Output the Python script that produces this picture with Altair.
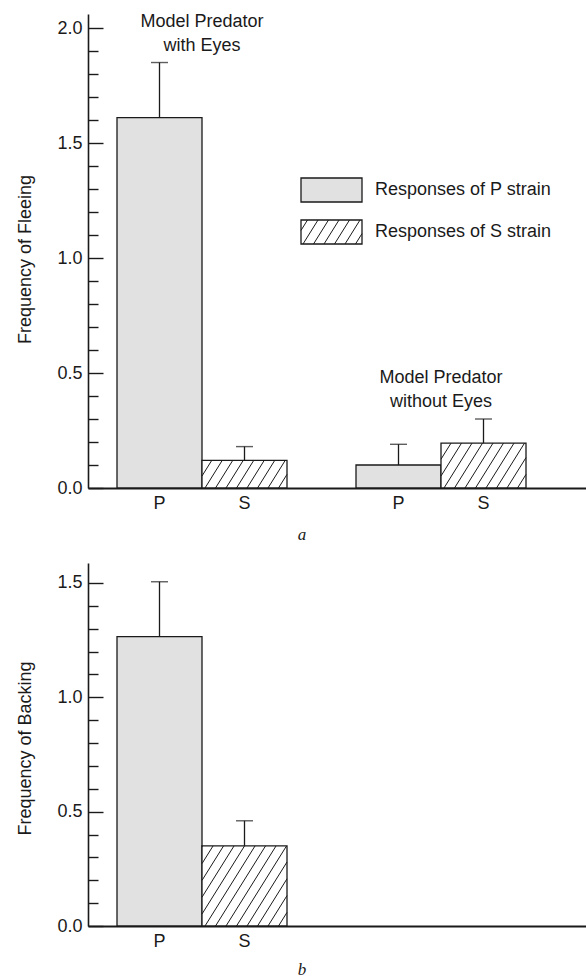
import altair as alt
import numpy as np
import pandas as pd

# ---------------- data ----------------
strains = ["P", "S"]
group_names = ["Model Predator\nwith Eyes", "Model Predator\nwithout Eyes"]

flee_group = [0, 0, 1, 1]
flee_strain = ["P", "S", "P", "S"]
flee_mean = [1.61, 0.12, 0.10, 0.195]
flee_upper = [1.85, 0.18, 0.19, 0.30]

back_group = [0, 0]
back_strain = ["P", "S"]
back_mean = [1.265, 0.35]
back_upper = [1.505, 0.46]

legend_labels = ["Responses of P strain", "Responses of S strain"]
panel_titles = ["Frequency of Fleeing", "Frequency of Backing"]
captions = ["a", "b"]

# ---------------- layout / style constants (pixels) ----------------
W = 498            # plot width; x scale is in pixel units
LEFT_GAP = 29
BAR_W = 85
GROUP_STEP = 239
FONT = "Liberation Sans"
FS = 18
INK = "#1a1a1a"
P_FILL = "#e1e1e1"
HATCH_GAP = 10.5
HATCH_SLOPE = 1.6


def hatch(x0, x1, h, phase=3.0):
    segs = []
    span = h / HATCH_SLOPE
    n_back = int(np.ceil(span / HATCH_GAP)) + 1
    c = x0 + phase - n_back * HATCH_GAP
    while c < x1:
        ylo = max(0.0, HATCH_SLOPE * (x0 - c))
        yhi = min(h, HATCH_SLOPE * (x1 - c))
        if yhi - ylo > 0.8:
            segs.append((c + ylo / HATCH_SLOPE, ylo, c + yhi / HATCH_SLOPE, yhi))
        c += HATCH_GAP
    return segs


def panel(groups, strs, means, uppers, ymax, H, ytitle, title_y, caption,
          cap_dy, annotate, legend):
    pxu = H / ymax
    x0 = [LEFT_GAP + g * GROUP_STEP + strains.index(s) * BAR_W
          for g, s in zip(groups, strs)]
    df = pd.DataFrame({
        "group": groups, "strain": strs, "mean": means, "upper": uppers,
        "x0": x0, "x1": [v + BAR_W for v in x0],
        "xc": [v + BAR_W / 2 for v in x0], "zero": 0.0,
    })

    rows = []
    for _, r in df[df.strain == "S"].iterrows():
        for a, b, c, d in hatch(r.x0, r.x1, r["mean"] * pxu):
            rows.append({"hx0": a, "hy0": b / pxu, "hx1": c, "hy1": d / pxu})
    hdf = pd.DataFrame(rows)

    xs = alt.Scale(domain=[0, W], nice=False, zero=False)
    ys = alt.Scale(domain=[0, ymax], nice=False, zero=True)

    tick_vals = [round(0.1 * i, 1) for i in range(int(ymax * 10 + 1e-9) + 1)]
    major = "round(datum.value*10) % 5 == 0"
    yaxis = alt.Axis(
        values=tick_vals, tickCount=100, labelOverlap=False,
        title=ytitle, titleFont=FONT, titleFontSize=FS,
        titleFontWeight="normal", titleColor=INK, titleAngle=270,
        titleBaseline="middle", titleX=-63, titleY=title_y,
        labelExpr=f"{major} ? format(datum.value, '.1f') : ''",
        labelFont=FONT, labelFontSize=FS, labelColor=INK, labelPadding=6,
        ticks=False, grid=True, gridColor=INK, gridWidth=1.4, gridOpacity=1,
        gridDash={"condition": {"test": major, "value": [15, 2000]},
                  "value": [10, 2000]},
        domain=True, domainColor=INK, domainWidth=1.6,
    )
    xaxis = alt.Axis(labels=False, ticks=False, grid=False, title=None,
                     domain=True, domainColor=INK, domainWidth=1.8)

    base = alt.Chart(df)
    bars = base.mark_rect(stroke=INK, strokeWidth=1.3).encode(
        x=alt.X("x0:Q", scale=xs, axis=xaxis),
        x2="x1:Q",
        y=alt.Y("mean:Q", scale=ys, axis=yaxis),
        y2="zero:Q",
        fill=alt.Fill("strain:N", scale=alt.Scale(domain=strains,
                      range=[P_FILL, "#ffffff"]), legend=None),
    )
    layers = [bars]
    if len(hdf):
        layers.append(alt.Chart(hdf).mark_rule(color=INK, strokeWidth=1.0).encode(
            x=alt.X("hx0:Q", scale=xs), x2="hx1:Q",
            y=alt.Y("hy0:Q", scale=ys), y2="hy1:Q"))
    layers.append(base.mark_rule(color=INK, strokeWidth=1.3).encode(
        x=alt.X("xc:Q", scale=xs),
        y=alt.Y("mean:Q", scale=ys), y2="upper:Q"))
    layers.append(base.mark_tick(color=INK, orient="horizontal", size=17,
                                 thickness=1.4).encode(
        x=alt.X("xc:Q", scale=xs),
        y=alt.Y("upper:Q", scale=ys)))
    layers.append(base.mark_text(font=FONT, fontSize=FS, color=INK,
                                 baseline="middle", dy=16).encode(
        x=alt.X("xc:Q", scale=xs),
        y=alt.Y("zero:Q", scale=ys),
        text="strain:N"))

    if annotate:
        gdf = df.groupby("group", as_index=False)["upper"].max()
        gdf["xc"] = [LEFT_GAP + g * GROUP_STEP + BAR_W for g in gdf.group]
        gdf["label"] = [group_names[g] for g in gdf.group]
        layers.append(alt.Chart(gdf).mark_text(
            font=FONT, fontSize=FS, color=INK, baseline="bottom", dy=-32,
            lineBreak="\n", lineHeight=24, align="center").encode(
            x=alt.X("xc:Q", scale=xs),
            y=alt.Y("upper:Q", scale=ys),
            text="label:N"))

    if legend:
        LX0, LX1, LY0, LH, LSTEP = 213, 274, 164, 24, 42
        ldf = pd.DataFrame({
            "label": legend_labels, "strain": strains,
            "ly0": [LY0 + i * LSTEP for i in range(len(strains))],
        })
        ldf["ly1"] = ldf.ly0 + LH
        ldf["lyc"] = ldf.ly0 + LH / 2
        ldf["lx0"] = LX0
        ldf["lx1"] = LX1
        ldf["ltx"] = LX1 + 13
        lb = alt.Chart(ldf)
        layers.append(lb.mark_rect(stroke=INK, strokeWidth=1.3).encode(
            x=alt.X("lx0:Q", scale=None), x2="lx1:Q",
            y=alt.Y("ly0:Q", scale=None), y2="ly1:Q",
            fill=alt.Fill("strain:N", scale=alt.Scale(domain=strains,
                          range=[P_FILL, "#ffffff"]), legend=None)))
        lrows = []
        sy = ldf.ly1[1]
        for a, b, c, d in hatch(LX0, LX1, LH, phase=2.0):
            lrows.append({"a": a, "b": sy - b, "c": c, "d": sy - d})
        layers.append(alt.Chart(pd.DataFrame(lrows)).mark_rule(
            color=INK, strokeWidth=1.0).encode(
            x=alt.X("a:Q", scale=None), x2="c:Q",
            y=alt.Y("b:Q", scale=None), y2="d:Q"))
        layers.append(lb.mark_text(font=FONT, fontSize=FS, color=INK,
                                   align="left", baseline="middle").encode(
            x=alt.X("ltx:Q", scale=None),
            y=alt.Y("lyc:Q", scale=None),
            text="label:N"))

    layers.append(alt.Chart(pd.DataFrame({"t": [caption]})).mark_text(
        font="Liberation Serif", fontStyle="italic", fontSize=17, color=INK,
        baseline="alphabetic").encode(
        x=alt.value(214), y=alt.value(H + cap_dy), text="t:N"))

    return alt.layer(*layers).properties(width=W, height=H)


top = panel(flee_group, flee_strain, flee_mean, flee_upper, 2.061, 474,
            panel_titles[0], 245, captions[0], 52, True, True)
bottom = panel(back_group, back_strain, back_mean, back_upper, 1.587, 363,
               panel_titles[1], 185, captions[1], 49, False, False)

chart = alt.vconcat(top, bottom, spacing=75, bounds="flush").properties(
    padding={"left": 16, "top": 12, "right": 0, "bottom": 0},
    background="white",
).configure_view(stroke=None)

chart.save("out.html", embed_options={"renderer": "svg", "actions": False})
